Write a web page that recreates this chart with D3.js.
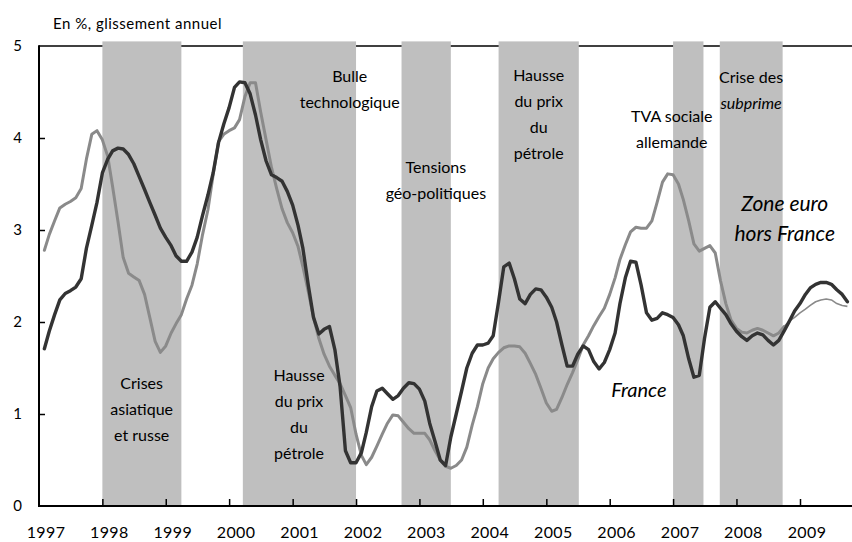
<!DOCTYPE html>
<html>
<head>
<meta charset="utf-8">
<script src="https://cdn.jsdelivr.net/npm/d3@7"></script>
<style>
  body { margin: 0; background: #fff; }
  svg { display: block; font-family: Lato, "Noto Sans", sans-serif; }
</style>
</head>
<body>
<div id="chart"></div>
<script>
// monthly year-on-year inflation, first point = Feb 1997
const firstMonth = '1997-02';
const france = [
    1.71, 1.9, 2.08, 2.24, 2.31, 2.34, 2.38, 2.47, 2.8, 3.05,
    3.3, 3.62, 3.77, 3.86, 3.89, 3.88, 3.82, 3.72, 3.58, 3.44,
    3.3, 3.16, 3.02, 2.92, 2.83, 2.72, 2.66, 2.66, 2.76, 2.92,
    3.16, 3.38, 3.62, 3.95, 4.15, 4.33, 4.55, 4.61, 4.6, 4.48,
    4.25, 3.98, 3.75, 3.6, 3.57, 3.53, 3.42, 3.27, 3.05, 2.8,
    2.4, 2.05, 1.87, 1.92, 1.95, 1.7, 1.3, 0.6, 0.47, 0.47,
    0.58, 0.8, 1.08, 1.25, 1.28, 1.22, 1.16, 1.2, 1.28, 1.34,
    1.33, 1.27, 1.14, 0.9, 0.7, 0.5, 0.44, 0.75, 1.0, 1.25,
    1.5, 1.66, 1.75, 1.75, 1.77, 1.85, 2.22, 2.6, 2.64, 2.47,
    2.25, 2.2, 2.3, 2.36, 2.35, 2.27, 2.16, 2.0, 1.75, 1.52,
    1.52, 1.65, 1.74, 1.7, 1.57, 1.49, 1.56, 1.7, 1.88, 2.2,
    2.48, 2.66, 2.65, 2.4, 2.1, 2.02, 2.04, 2.1, 2.08, 2.05,
    1.97, 1.85, 1.6, 1.4, 1.42, 1.82, 2.16, 2.22, 2.15, 2.08,
    1.98, 1.9, 1.84, 1.8, 1.85, 1.88, 1.86, 1.8, 1.75, 1.8,
    1.9, 2.01, 2.12, 2.2, 2.3, 2.37, 2.41, 2.43, 2.43, 2.41,
    2.35, 2.3, 2.22
];
const zoneEuro = [
    2.78, 2.95, 3.1, 3.24, 3.28, 3.31, 3.35, 3.45, 3.77, 4.04,
    4.08, 3.98, 3.8, 3.47, 3.09, 2.7, 2.53, 2.49, 2.45, 2.3,
    2.05, 1.79, 1.67, 1.74, 1.88, 1.98, 2.08, 2.25, 2.4, 2.63,
    2.95, 3.22, 3.6, 3.96, 4.04, 4.08, 4.11, 4.2, 4.45, 4.6,
    4.6, 4.28, 3.98, 3.68, 3.45, 3.23, 3.08, 2.97, 2.82, 2.6,
    2.33, 2.05, 1.82, 1.65, 1.52, 1.42, 1.33, 1.2, 1.07, 0.78,
    0.55, 0.45, 0.53, 0.65, 0.78, 0.9, 0.99, 0.98, 0.91, 0.84,
    0.79, 0.79, 0.79, 0.72, 0.6, 0.5, 0.43, 0.41, 0.44, 0.5,
    0.64, 0.88, 1.08, 1.33, 1.5, 1.6, 1.67, 1.72, 1.74, 1.74,
    1.73, 1.66, 1.55, 1.43, 1.28, 1.12, 1.03, 1.05, 1.18, 1.32,
    1.45, 1.59, 1.75, 1.85, 1.96, 2.06, 2.15, 2.3, 2.48, 2.68,
    2.84, 2.98, 3.03, 3.02, 3.02, 3.1, 3.3, 3.52, 3.61, 3.6,
    3.5, 3.33, 3.1, 2.85, 2.77, 2.8, 2.83, 2.75, 2.45, 2.2,
    2.02, 1.93, 1.89, 1.88, 1.91, 1.93, 1.91, 1.88, 1.85, 1.88,
    1.95, 2.01, 2.05, 2.1, 2.14, 2.18, 2.22, 2.24, 2.25, 2.24,
    2.2, 2.18, 2.17
];
const zoneThinFrom = '2008-10';   // the zone euro line is drawn thinner from here on

const years = [1997, 1998, 1999, 2000, 2001, 2002, 2003, 2004, 2005, 2006, 2007, 2008, 2009];
const yTicks = [0, 1, 2, 3, 4, 5];

// shaded episodes [start, end]
const bands = [
    ['1998-01-01', '1999-04-01'],
    ['2000-03-20', '2002-01-01'],
    ['2002-09-20', '2003-07-01'],
    ['2004-04-01', '2005-07-07'],
    ['2007-01-01', '2007-06-25'],
    ['2007-09-27', '2008-09-23']
];

// annotations: text lines, anchored at (decimal year, value) of the first line
const notes = [
    { lines: ['Crises', 'asiatique', 'et russe'], t: 1998.62, v: 1.33 },
    { lines: ['Hausse', 'du prix', 'du', 'pétrole'], t: 2001.1, v: 1.42 },
    { lines: ['Bulle', 'technologique'], t: 2001.9, v: 4.67 },
    { lines: ['Tensions', 'géo-politiques'], t: 2003.26, v: 3.68 },
    { lines: ['Hausse', 'du prix', 'du', 'pétrole'], t: 2004.88, v: 4.68 },
    { lines: ['TVA sociale', 'allemande'], t: 2006.98, v: 4.24 },
    { lines: ['Crise des', '<i>subprime</i>'], t: 2008.23, v: 4.66 }
];
const seriesLabels = [
    { lines: ['Zone euro', 'hors France'], t: 2008.76, v: 3.29 },
    { lines: ['France'], t: 2006.46, v: 1.26 }
];

const W = 852, H = 542;
const x0 = 39, x1 = 800, xEnd = 852;
const yBottom = 506, yTop = 46;

const parseMonth = d3.timeParse('%Y-%m');
const parseDay = d3.timeParse('%Y-%m-%d');
const start = parseMonth(firstMonth);
const months = france.map((d, i) => d3.timeMonth.offset(start, i));
const thinDate = parseMonth(zoneThinFrom);

function decYear(t) {
    const y = Math.floor(t);
    const a = new Date(y, 0, 1), b = new Date(y + 1, 0, 1);
    return new Date(+a + (t - y) * (b - a));
}

const x = d3.scaleTime()
    .domain([new Date(1997, 0, 1), new Date(2009, 0, 1)])
    .range([x0, x1]);
const y = d3.scaleLinear().domain([0, 5]).range([yBottom, yTop]);

const svg = d3.select('#chart').append('svg')
    .attr('width', W)
    .attr('height', H);

// top frame line (sits under the bands)
svg.append('line')
    .attr('x1', x0).attr('x2', xEnd)
    .attr('y1', y(5)).attr('y2', y(5))
    .attr('stroke', '#000').attr('stroke-width', 1.5);

svg.append('g').selectAll('rect')
    .data(bands)
    .enter()
    .append('rect')
    .attr('x', d => x(parseDay(d[0])))
    .attr('width', d => x(parseDay(d[1])) - x(parseDay(d[0])))
    .attr('y', y(5.05))
    .attr('height', y(0) - y(5.05))
    .attr('fill', '#bfbfbf');

// lines
const lineMaker = d3.line()
    .x(d => x(d.date))
    .y(d => y(d.value));

const zoneData = months.map((m, i) => ({ date: m, value: zoneEuro[i] }));
const franceData = months.map((m, i) => ({ date: m, value: france[i] }));

svg.append('path')
    .attr('d', lineMaker(zoneData.filter(d => d.date <= thinDate)))
    .attr('fill', 'none')
    .attr('stroke', '#8a8a8a')
    .attr('stroke-width', 3)
    .attr('stroke-linejoin', 'round')
    .attr('stroke-linecap', 'round');

svg.append('path')
    .attr('d', lineMaker(zoneData.filter(d => d.date >= thinDate)))
    .attr('fill', 'none')
    .attr('stroke', '#8a8a8a')
    .attr('stroke-width', 1.6)
    .attr('stroke-linejoin', 'round');

svg.append('path')
    .attr('d', lineMaker(franceData))
    .attr('fill', 'none')
    .attr('stroke', '#333')
    .attr('stroke-width', 3.4)
    .attr('stroke-linejoin', 'round')
    .attr('stroke-linecap', 'round');

// axes
const xAx = svg.append('g')
    .attr('transform', `translate(0, ${yBottom})`)
    .call(d3.axisBottom(x)
        .tickValues(years.slice(1).map(yr => new Date(yr, 0, 1)))
        .tickSize(-7)
        .tickFormat(''));
xAx.select('.domain').remove();
xAx.selectAll('.tick line').attr('stroke', '#000').attr('stroke-width', 1.5);
svg.append('line')
    .attr('x1', x0).attr('x2', xEnd)
    .attr('y1', yBottom).attr('y2', yBottom)
    .attr('stroke', '#000').attr('stroke-width', 2);

svg.append('g').selectAll('text')
    .data(years)
    .enter()
    .append('text')
    .attr('x', d => x(new Date(d, 0, 1)) + 7)
    .attr('y', 538)
    .attr('text-anchor', 'middle')
    .attr('font-size', 16)
    .attr('letter-spacing', 0.4)
    .text(d => d);

const yAx = svg.append('g')
    .attr('transform', `translate(${x0}, 0)`)
    .call(d3.axisLeft(y)
        .tickValues(yTicks.slice(1, -1))
        .tickSize(-6)
        .tickFormat(''));
yAx.select('.domain').remove();
yAx.selectAll('.tick line').attr('stroke', '#000').attr('stroke-width', 1.5);
svg.append('line')
    .attr('x1', x0).attr('x2', x0)
    .attr('y1', y(5) - 0.75).attr('y2', yBottom + 1)
    .attr('stroke', '#000').attr('stroke-width', 2);

svg.append('g').selectAll('text')
    .data(yTicks)
    .enter()
    .append('text')
    .attr('x', 22)
    .attr('y', d => y(d))
    .attr('dy', '0.36em')
    .attr('text-anchor', 'end')
    .attr('font-size', 15)
    .text(d => d);

svg.append('text')
    .attr('x', 53)
    .attr('y', 29)
    .attr('font-size', 15)
    .attr('letter-spacing', 0.5)
    .text('En %, glissement annuel');

// annotations
function drawNote(n, size, gap, italic) {
    const t = svg.append('text')
        .attr('x', x(decYear(n.t)))
        .attr('y', y(n.v))
        .attr('text-anchor', 'middle')
        .attr('font-size', size)
        .attr('font-style', italic ? 'italic' : null);
    n.lines.forEach((l, i) => {
        const ts = t.append('tspan')
            .attr('x', x(decYear(n.t)))
            .attr('y', y(n.v) + i * gap)
            .attr('dy', '0.36em');
        if (l.startsWith('<i>')) ts.attr('font-style', 'italic').text(l.replace(/<\/?i>/g, ''));
        else ts.text(l);
    });
}
notes.forEach(n => drawNote(n, 16, 26, false));
drawNote(seriesLabels[0], 21, 30, true);
drawNote(seriesLabels[1], 20, 30, true);
</script>
</body>
</html>
